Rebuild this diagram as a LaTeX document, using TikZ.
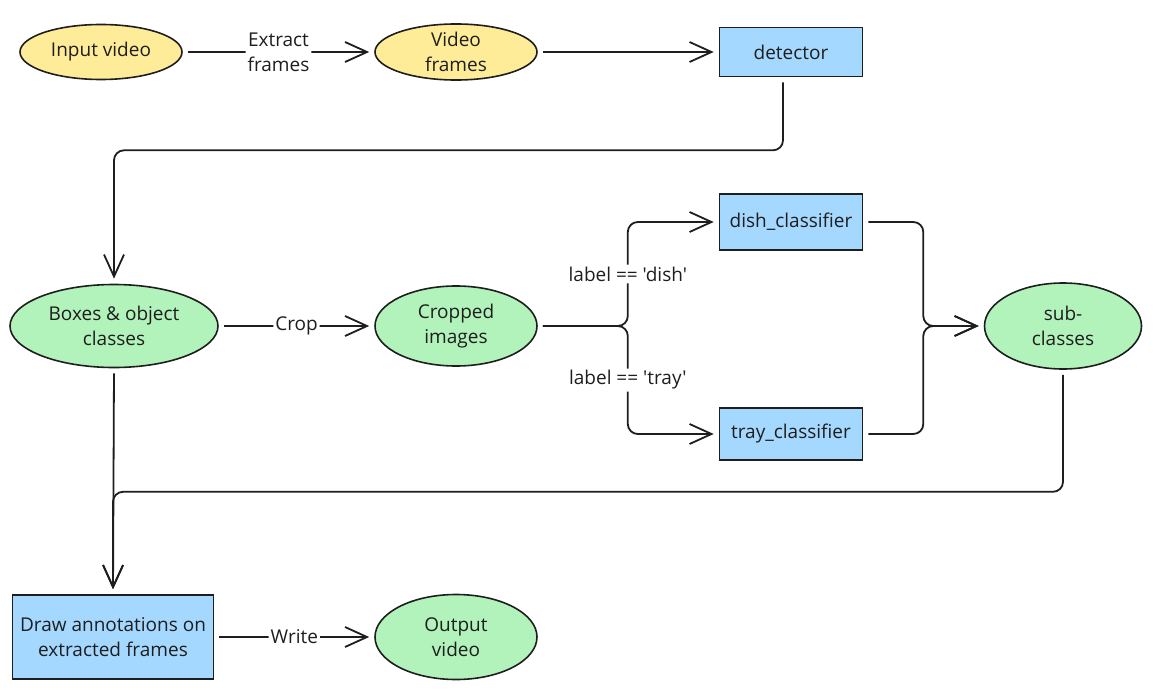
\documentclass[tikz,border=0pt]{standalone}
\usepackage{fontspec}
\setmainfont{Open Sans}[Ligatures=TeXOff]
\usetikzlibrary{shapes.geometric}
\usetikzlibrary{arrows.meta}
\usetikzlibrary{positioning}

\definecolor{inkline}{HTML}{1E1E1E}
\definecolor{yellowfill}{HTML}{FFEC99}
\definecolor{greenfill}{HTML}{B2F2BB}
\definecolor{bluefill}{HTML}{A5D8FF}

\tikzset{
  txt/.style={font=\fontsize{19}{25}\selectfont, align=center, text=inkline},
  sourcenode/.style={ellipse, draw=inkline, line width=1.6pt, fill=yellowfill, inner sep=0pt, minimum width=162pt, minimum height=55pt, txt},
  datanode/.style={ellipse, draw=inkline, line width=1.6pt, fill=greenfill, inner sep=0pt, txt},
  modelbox/.style={rectangle, draw=inkline, line width=1.6pt, fill=bluefill, inner sep=0pt, minimum width=143pt, txt},
  edgelabel/.style={fill=white, inner sep=2pt, txt},
  flow/.style={->, draw=inkline, line width=1.8pt, rounded corners=10pt, shorten <=5pt, shorten >=5pt}
}

\begin{document}
\begin{tikzpicture}[x=1pt,y=-1pt,every path/.style={>={Straight Barb[length=22pt,width=20pt]}}]
  \useasboundingbox (0,0) rectangle (1153,690);

  % top row
  \node[sourcenode] (input) at (101,52) {Input video};
  \node[sourcenode] (frames) at (456,52) {Video\\frames};
  \node[modelbox, minimum height=49pt] (detector) at (791,52) {detector};

  % middle row
  \node[datanode, minimum width=208pt, minimum height=83pt] (boxes) at (114,326) {Boxes \& object\\classes};
  \node[datanode, minimum width=162pt, minimum height=80pt] (cropped) at (456,326) {Cropped\\images};
  \node[modelbox, minimum height=56pt] (dish) at (791,222) {dish\_classifier};
  \node[modelbox, minimum height=52pt] (tray) at (791,434) {tray\_classifier};
  \node[datanode, minimum width=157pt, minimum height=86pt] (sub) at (1063,326) {sub-\\classes};

  % bottom row
  \node[modelbox, minimum width=201pt, minimum height=84pt] (annotate) at (113,637) {Draw annotations on\\extracted frames};
  \node[datanode, minimum width=162pt, minimum height=85pt] (output) at (456,637) {Output\\video};

  % connectors
  \draw[flow] (input) -- node[edgelabel] {Extract\\frames} (frames);
  \draw[flow] (frames) -- (detector);
  \draw[flow] ([xshift=-8pt]detector.south) -- ++(0,73) -| (boxes.north);
  \draw[flow] (boxes) -- node[edgelabel] {Crop} (cropped);
  \draw[flow] (cropped.east) -- ++(90,0) |- node[edgelabel, pos=0.25] {label == 'dish'} (dish.west);
  \draw[flow] (cropped.east) -- ++(90,0) |- node[edgelabel, pos=0.25] {label == 'tray'} (tray.west);
  \draw[flow] (dish.east) -- ++(60,0) |- (sub.west);
  \draw[flow] (tray.east) -- ++(60,0) |- (sub.west);
  \draw[flow] (sub.south) -- ++(0,122) -| (annotate.north);
  \draw[flow] (boxes.south) -- (annotate.north);
  \draw[flow] (annotate) -- node[edgelabel] {Write} (output);
\end{tikzpicture}
\end{document}
